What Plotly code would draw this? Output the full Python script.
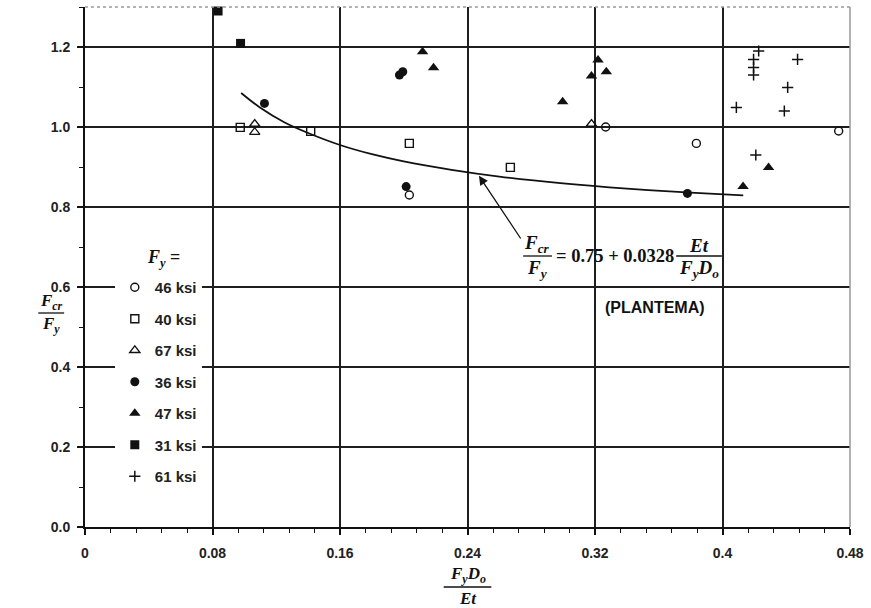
import plotly.graph_objects as go

# ---------------- data ----------------
s46_x = [0.2035, 0.3267, 0.3836, 0.4729]
s46_y = [0.830, 1.000, 0.959, 0.990]

s40_x = [0.0974, 0.1416, 0.2035, 0.2669]
s40_y = [0.999, 0.989, 0.959, 0.899]

s67_x = [0.1065, 0.1065, 0.3178]
s67_y = [1.0075, 0.987, 1.0075]

s36_x = [0.1126, 0.1973, 0.1994, 0.2015, 0.3780]
s36_y = [1.059, 1.130, 1.138, 0.851, 0.834]

s47_x = [0.2118, 0.2187, 0.2997, 0.3219, 0.3178, 0.3271, 0.4289, 0.4129]
s47_y = [1.188, 1.148, 1.063, 1.1675, 1.1275, 1.138, 0.899, 0.851]

s31_x = [0.0835, 0.0976]
s31_y = [1.290, 1.209]

s61_x = [0.4227, 0.4195, 0.4195, 0.4195, 0.4471, 0.4409, 0.4087, 0.4388, 0.4209]
s61_y = [1.190, 1.169, 1.149, 1.130, 1.169, 1.099, 1.049, 1.040, 0.930]

# Plantema curve, points
curve_x = [0.098, 0.11, 0.125, 0.14, 0.16, 0.18, 0.20, 0.23, 0.26, 0.30, 0.34, 0.38, 0.413]
curve_y = [1.085, 1.048, 1.012, 0.985, 0.955, 0.932, 0.914, 0.893, 0.876, 0.859, 0.846, 0.836, 0.829]

x_ticks = [0, 0.08, 0.16, 0.24, 0.32, 0.40, 0.48]
x_labels = ["0", "0.08", "0.16", "0.24", "0.32", "0.4", "0.48"]
y_ticks = [0.0, 0.2, 0.4, 0.6, 0.8, 1.0, 1.2]
y_labels = ["0.0", "0.2", "0.4", "0.6", "0.8", "1.0", "1.2"]

# ---------------- layout helpers ----------------
W, H = 871, 608
L, R, T, B = 85, 16, 7, 81
PW, PH = W - L - R, H - T - B


def px(xp):
    return (xp - L) / PW


def py(yp):
    return (H - B - yp) / PH


BLACK = "#111111"
SERIF = "Liberation Serif, Times New Roman, serif"
SANS = "Liberation Sans, Arial, sans-serif"

series = [
    ("46 ksi", s46_x, s46_y, "circle-open", 8, 1.4),
    ("40 ksi", s40_x, s40_y, "square-open", 8, 1.4),
    ("67 ksi", s67_x, s67_y, "triangle-up-open", 9, 1.3),
    ("36 ksi", s36_x, s36_y, "circle", 9, 0),
    ("47 ksi", s47_x, s47_y, "triangle-up", 10, 0),
    ("31 ksi", s31_x, s31_y, "square", 9, 0),
    ("61 ksi", s61_x, s61_y, "cross-thin-open", 8, 1.5),
]

fig = go.Figure()

fig.add_trace(go.Scatter(
    x=curve_x, y=curve_y, mode="lines", line=dict(color=BLACK, width=1.8, shape="spline"),
    showlegend=False, hoverinfo="skip"))

for name, xs, ys, sym, size, lw in series:
    fig.add_trace(go.Scatter(
        x=xs, y=ys, mode="markers", name=name, legendgroup=name,
        cliponaxis=False,
        marker=dict(symbol=sym, size=size, color=BLACK,
                    line=dict(color=BLACK, width=lw))))

axis_common = dict(
    showline=True, linecolor=BLACK, linewidth=2,
    showgrid=True, gridcolor="#1e1e1e", gridwidth=2,
    zeroline=False, ticks="outside", tickcolor=BLACK, tickwidth=1.5, ticklen=6,
    tickfont=dict(family=SANS, size=14, color="#222222", weight="bold"),
)

fig.update_xaxes(
    range=[0, 0.48], tickvals=x_ticks, ticktext=x_labels,
    minor=dict(dtick=0.016, ticks="outside", ticklen=4, tickcolor=BLACK, tickwidth=1.2, showgrid=False),
    ticklabelstandoff=6, **axis_common)
fig.update_yaxes(
    range=[0, 1.3], tickvals=y_ticks, ticktext=y_labels,
    minor=dict(dtick=0.1, ticks="outside", ticklen=4, tickcolor=BLACK, tickwidth=1.2, showgrid=False),
    ticklabelstandoff=4, **axis_common)

shapes = []
# light top and right frame
shapes.append(dict(type="line", xref="paper", yref="paper", x0=0, x1=1, y0=1, y1=1,
                   line=dict(color="#9a9a9a", width=1.5, dash="dot")))
shapes.append(dict(type="line", xref="paper", yref="paper", x0=1, x1=1, y0=0, y1=1,
                   line=dict(color="#9a9a9a", width=1.5)))


def frac_bar(x0, x1, y):
    shapes.append(dict(type="line", xref="paper", yref="paper",
                       x0=px(x0), x1=px(x1), y0=py(y), y1=py(y),
                       line=dict(color=BLACK, width=1.3)))


annotations = []


def txt(x, y, s, size=19, family=SERIF, xanchor="center"):
    annotations.append(dict(xref="paper", yref="paper", x=px(x), y=py(y), text=s,
                            showarrow=False, xanchor=xanchor, yanchor="middle",
                            font=dict(family=family, size=size, color=BLACK, weight="bold")))


# equation
txt(540, 244, "<i>F</i><sub><i>cr</i></sub>")
frac_bar(526, 555, 256)
txt(540, 269, "<i>F</i><sub><i>y</i></sub>")
txt(618, 256, "= 0.75 + 0.0328", size=18.5)
txt(703, 245, "<i>Et</i>")
frac_bar(680, 726, 256)
txt(703, 269, "<i>F</i><sub><i>y</i></sub><i>D</i><sub><i>o</i></sub>")
txt(659, 307, "(PLANTEMA)", size=16, family=SANS)

# legend heading
txt(164, 258, "<i>F</i><sub><i>y</i></sub> =", size=18)

# y-axis title
txt(51, 302, "<i>F</i><sub><i>cr</i></sub>", size=17)
frac_bar(38, 64, 313)
txt(51, 325, "<i>F</i><sub><i>y</i></sub>", size=17)

# x-axis title
txt(470, 575, "<i>F</i><sub><i>y</i></sub><i>D</i><sub><i>o</i></sub>", size=17)
frac_bar(446, 494, 587)
txt(470, 598, "<i>Et</i>", size=17)

# arrow to the curve
annotations.append(dict(x=0.2472, y=0.878, xref="x", yref="y",
                        ax=0.274, ay=0.7175, axref="x", ayref="y",
                        showarrow=True, arrowhead=2, arrowsize=1.4, arrowwidth=1.3,
                        arrowcolor=BLACK, text=""))

fig.update_layout(
    width=W, height=H,
    margin=dict(l=L, r=R, t=T, b=B),
    paper_bgcolor="white", plot_bgcolor="white",
    shapes=shapes, annotations=annotations,
    legend=dict(
        x=px(115), y=py(271), xanchor="left", yanchor="top",
        bgcolor="white", borderwidth=0,
        font=dict(family=SANS, size=15, color="#222222", weight="bold"),
        tracegroupgap=9, itemwidth=30, traceorder="grouped",
    ),
)

fig.write_html("out.html")
